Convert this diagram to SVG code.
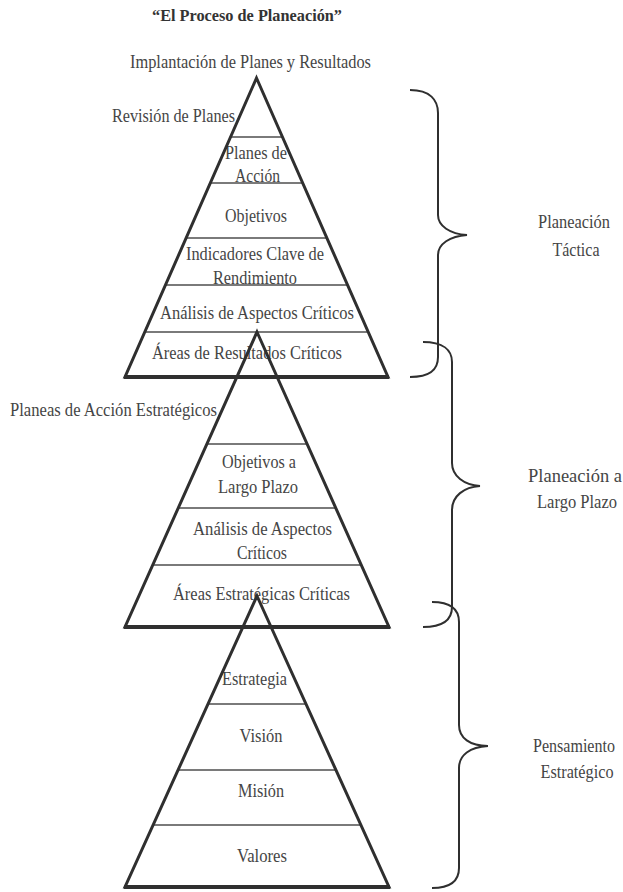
<svg xmlns="http://www.w3.org/2000/svg" width="623" height="892" viewBox="0 0 623 892">
  <style>
    .bg { fill: #ffffff; }
    text { font-family: "Liberation Serif", "Times New Roman", serif; font-size: 18px; fill: #454545; }
    .c { text-anchor: middle; }
    .title { font-weight: bold; font-size: 17px; fill: #333333; }
    .tri { fill: none; stroke: #2f2f2f; stroke-width: 3; stroke-linejoin: miter; }
    .base { stroke: #2f2f2f; stroke-width: 4; }
    .sep { stroke: #7a7a7a; stroke-width: 2; }
    .brace { fill: none; stroke: #2f2f2f; stroke-width: 2; }
  </style>
  <rect class="bg" x="0" y="0" width="623" height="892"/>

  <!-- heading -->
  <g id="title">
    <text class="title c" x="247" y="21" textLength="190" lengthAdjust="spacingAndGlyphs">“El Proceso de Planeación”</text>
  </g>

  <!-- upper pyramid: tactical plans -->
  <g id="pyramid-tactica">
    <text class="c" x="250.5" y="68" textLength="241" lengthAdjust="spacingAndGlyphs">Implantación de Planes y Resultados</text>
    <text x="112" y="121.5" textLength="123" lengthAdjust="spacingAndGlyphs">Revisión de Planes</text>
    <text class="c" x="256" y="159" textLength="62" lengthAdjust="spacingAndGlyphs">Planes de</text>
    <text class="c" x="257.5" y="182" textLength="45" lengthAdjust="spacingAndGlyphs">Acción</text>
    <text class="c" x="256" y="221.5" textLength="62" lengthAdjust="spacingAndGlyphs">Objetivos</text>
    <text class="c" x="255" y="260" textLength="138" lengthAdjust="spacingAndGlyphs">Indicadores Clave de</text>
    <text class="c" x="255" y="284" textLength="84" lengthAdjust="spacingAndGlyphs">Rendimiento</text>
    <text class="c" x="257" y="319" textLength="194" lengthAdjust="spacingAndGlyphs">Análisis de Aspectos Críticos</text>
    <text class="c" x="247" y="359" textLength="190" lengthAdjust="spacingAndGlyphs">Áreas de Resultados Críticos</text>
    <line class="sep" x1="230.6" y1="137" x2="282.4" y2="137"/>
    <line class="sep" x1="210.3" y1="183" x2="302.7" y2="183"/>
    <line class="sep" x1="186.1" y1="238" x2="326.9" y2="238"/>
    <line class="sep" x1="165.5" y1="285" x2="347.5" y2="285"/>
    <line class="sep" x1="144.8" y1="332" x2="368.2" y2="332"/>
    <polygon class="tri" points="256.5,78 388,377 125,377"/>
    <line class="base" x1="124" y1="377" x2="389" y2="377"/>
  </g>

  <!-- middle pyramid: long-range plans -->
  <g id="pyramid-largo-plazo">
    <text x="10" y="416" textLength="207" lengthAdjust="spacingAndGlyphs">Planeas de Acción Estratégicos</text>
    <text class="c" x="259" y="468" textLength="74" lengthAdjust="spacingAndGlyphs">Objetivos a</text>
    <text class="c" x="258" y="493" textLength="80" lengthAdjust="spacingAndGlyphs">Largo Plazo</text>
    <text class="c" x="262.5" y="535" textLength="139" lengthAdjust="spacingAndGlyphs">Análisis de Aspectos</text>
    <text class="c" x="262" y="559" textLength="50" lengthAdjust="spacingAndGlyphs">Críticos</text>
    <text class="c" x="261.5" y="600" textLength="177" lengthAdjust="spacingAndGlyphs">Áreas Estratégicas Críticas</text>
    <line class="sep" x1="206.9" y1="444" x2="307.1" y2="444"/>
    <line class="sep" x1="178.2" y1="508" x2="335.8" y2="508"/>
    <line class="sep" x1="152.7" y1="565" x2="361.3" y2="565"/>
    <polygon class="tri" points="257,332 389,627 125,627"/>
    <line class="base" x1="124" y1="627" x2="390" y2="627"/>
  </g>

  <!-- lower pyramid: strategic thinking -->
  <g id="pyramid-estrategico">
    <text class="c" x="254.5" y="685" textLength="65" lengthAdjust="spacingAndGlyphs">Estrategia</text>
    <text class="c" x="261" y="742" textLength="43" lengthAdjust="spacingAndGlyphs">Visión</text>
    <text class="c" x="261" y="797" textLength="46" lengthAdjust="spacingAndGlyphs">Misión</text>
    <text class="c" x="262" y="862" textLength="50" lengthAdjust="spacingAndGlyphs">Valores</text>
    <line class="sep" x1="208" y1="704" x2="306" y2="704"/>
    <line class="sep" x1="178.1" y1="770" x2="335.9" y2="770"/>
    <line class="sep" x1="153.1" y1="825" x2="360.9" y2="825"/>
    <polygon class="tri" points="257,596 389,887 125,887"/>
    <line class="base" x1="124" y1="887" x2="390" y2="887"/>
  </g>

  <!-- curly braces grouping the levels -->
  <g id="braces">
    <path class="brace" d="M410,90 C430,90 438,100 438,113 L438,215 C438,226 450,234 467,235 C450,236 438,244 438,255 L438,357 C438,370 430,377 410,377"/>
    <path class="brace" d="M423,342 C443,342 452,350 452,362 L452,463 C452,476 464,485 480,486 C464,487 452,496 452,510 L452,607 C452,620 443,627 423,627"/>
    <path class="brace" d="M432,602 C451,602 459,610 459,622 L459,725 C459,738 470,746 488,746 C470,747 459,755 459,768 L459,868 C459,880 451,888 432,888"/>
  </g>

  <g id="label-tactica">
    <text class="c" x="574" y="228" textLength="72" lengthAdjust="spacingAndGlyphs">Planeación</text>
    <text class="c" x="576" y="256" textLength="47" lengthAdjust="spacingAndGlyphs">Táctica</text>
  </g>
  <g id="label-largo-plazo">
    <text class="c" x="575" y="481.5" textLength="94" lengthAdjust="spacingAndGlyphs">Planeación a</text>
    <text class="c" x="577" y="508" textLength="80" lengthAdjust="spacingAndGlyphs">Largo Plazo</text>
  </g>
  <g id="label-estrategico">
    <text class="c" x="574" y="751.5" textLength="82" lengthAdjust="spacingAndGlyphs">Pensamiento</text>
    <text class="c" x="577" y="778" textLength="73" lengthAdjust="spacingAndGlyphs">Estratégico</text>
  </g>
</svg>
